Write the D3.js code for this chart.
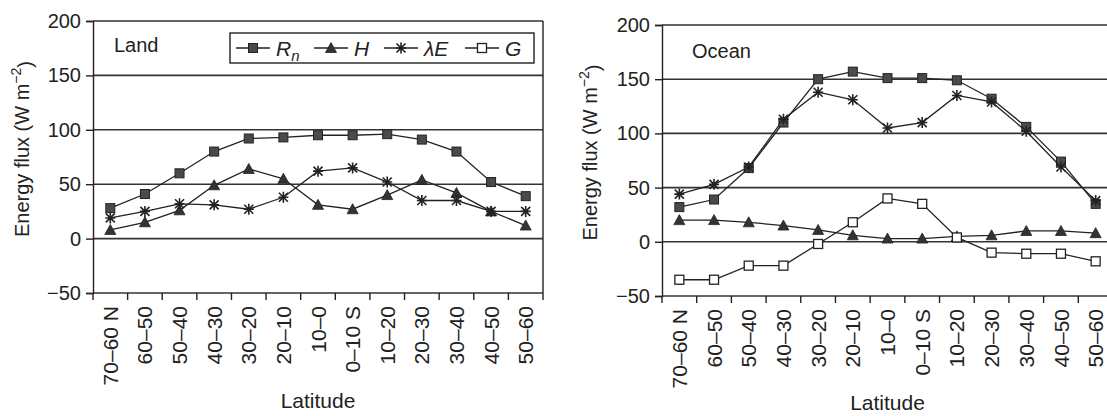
<!DOCTYPE html>
<html>
<head>
<meta charset="UTF-8">
<title>Energy flux by latitude</title>
<script src="https://d3js.org/d3.v7.min.js"></script>
<style>
  body { margin: 0; background: #fff; }
  text { font-family: "Liberation Sans", Arial, sans-serif; fill: #222; }
</style>
</head>
<body>
<script>
  // data
  var latitudes = ["70–60 N", "60–50", "50–40", "40–30", "30–20", "20–10", "10–0",
                   "0–10 S", "10–20", "20–30", "30–40", "40–50", "50–60"];
  var yTicks = [-50, 0, 50, 100, 150, 200];

  var landRn = [28, 41, 60, 80, 92, 93, 95, 95, 96, 91, 80, 52, 39];
  var landH  = [8, 15, 26, 49, 64, 55, 31, 27, 40, 54, 42, 25, 12];
  var landLE = [19, 25, 32, 31, 27, 38, 62, 65, 52, 35, 35, 25, 25];

  var oceanRn = [32, 39, 68, 110, 150, 157, 151, 151, 149, 132, 106, 74, 35];
  var oceanH  = [20, 20, 18, 15, 11, 6, 3, 3, 5, 6, 10, 10, 8];
  var oceanLE = [44, 53, 69, 113, 138, 131, 105, 110, 135, 129, 102, 69, 38];
  var oceanG  = [-35, -35, -22, -22, -2, 18, 40, 35, 4, -10, -11, -11, -18];

  var width = 1107, height = 416;

  var svg = d3.select("body").append("svg")
      .attr("width", width)
      .attr("height", height);

  // marker shapes
  function drawMarker(sel, type) {
    if (type == "square") {
      sel.append("rect").attr("x", -4.5).attr("y", -4.5).attr("width", 9).attr("height", 9)
         .attr("fill", "#4a4a4a").attr("stroke", "#222").attr("stroke-width", 1);
    } else if (type == "triangle") {
      sel.append("path").attr("d", "M0,-5.5L5.5,4.5L-5.5,4.5Z")
         .attr("fill", "#333").attr("stroke", "#222").attr("stroke-width", 0.8);
    } else if (type == "star") {
      sel.append("path").attr("d", "M0,-5.5V5.5M-4.5,-4.5L4.5,4.5M4.5,-4.5L-4.5,4.5M-5,0H5")
         .attr("fill", "none").attr("stroke", "#222").attr("stroke-width", 1.6);
    } else {
      sel.append("rect").attr("x", -4.5).attr("y", -4.5).attr("width", 9).attr("height", 9)
         .attr("fill", "#fff").attr("stroke", "#222").attr("stroke-width", 1.3);
    }
  }

  function drawPanel(p) {
    var x = d3.scaleBand().domain(latitudes).range([p.x0, p.x1]);
    var y = d3.scaleLinear().domain([-50, 200]).range([p.yBot, p.yTop]);
    var g = svg.append("g");

    // gridlines
    g.selectAll(".grid").data(yTicks).enter().append("line")
      .attr("x1", p.x0).attr("x2", p.x1)
      .attr("y1", function(d) { return y(d); }).attr("y2", function(d) { return y(d); })
      .attr("stroke", "#333").attr("stroke-width", 1.6);

    // y axis
    var yAxis = d3.axisLeft(y).tickValues(yTicks).tickSize(7).tickPadding(5)
      .tickFormat(function(d) { return d < 0 ? "\u2212" + Math.abs(d) : d; });
    var ya = g.append("g").attr("transform", "translate(" + p.x0 + ",0)").call(yAxis);
    ya.select(".domain").attr("stroke", "#222").attr("stroke-width", 1.4);
    ya.selectAll(".tick line").attr("stroke", "#222").attr("stroke-width", 1.4);
    ya.selectAll("text").style("font-size", "20px").attr("fill", "#222");

    // x axis: ticks at category boundaries
    var bounds = latitudes.map(function(d) { return x(d); }).concat([p.x1]);
    g.selectAll(".xt").data(bounds).enter().append("line")
      .attr("x1", function(d) { return d; }).attr("x2", function(d) { return d; })
      .attr("y1", p.yBot).attr("y2", p.yBot + 7)
      .attr("stroke", "#222").attr("stroke-width", 1.4);
    g.selectAll(".xl").data(latitudes).enter().append("text")
      .attr("transform", function(d) {
        return "translate(" + (x(d) + x.bandwidth() / 2) + "," + (p.yBot + 13) + ") rotate(-90)";
      })
      .attr("dy", "0.36em")
      .attr("text-anchor", "end")
      .style("font-size", "21px")
      .text(function(d) { return d; });

    if (p.frame) {
      g.append("line").attr("x1", p.x1).attr("x2", p.x1).attr("y1", p.yTop).attr("y2", p.yBot)
        .attr("stroke", "#222").attr("stroke-width", 1.4);
    }

    // axis titles
    var yt = g.append("text")
      .attr("transform", "translate(" + p.ytX + "," + ((p.yTop + p.yBot) / 2 - 8) + ") rotate(-90)")
      .attr("text-anchor", "middle")
      .style("font-size", "20px");
    yt.append("tspan").text("Energy flux (W m");
    yt.append("tspan").attr("dy", "-0.55em").style("font-size", "14px").text("\u22122");
    yt.append("tspan").attr("dy", "0.55em").text(")");

    g.append("text")
      .attr("x", (p.x0 + p.x1) / 2).attr("y", p.latY)
      .attr("text-anchor", "middle")
      .style("font-size", "21px")
      .text("Latitude");

    g.append("text").attr("x", p.nameX).attr("y", p.nameY)
      .style("font-size", "20px").text(p.name);

    // series
    var line = d3.line()
      .x(function(d, i) { return x(latitudes[i]) + x.bandwidth() / 2; })
      .y(function(d) { return y(d); });

    p.series.forEach(function(s) {
      g.append("path").datum(s.values).attr("d", line)
        .attr("fill", "none").attr("stroke", "#222").attr("stroke-width", 1.3);
    });
    p.series.forEach(function(s) {
      g.selectAll(null).data(s.values).enter().append("g")
        .attr("transform", function(d, i) {
          return "translate(" + (x(latitudes[i]) + x.bandwidth() / 2) + "," + y(d) + ")";
        })
        .each(function() { drawMarker(d3.select(this), s.marker); });
    });
  }

  drawPanel({
    x0: 93, x1: 543, yTop: 21, yBot: 293, frame: true,
    ytX: 29, latY: 408, name: "Land", nameX: 114, nameY: 52,
    series: [
      { values: landRn, marker: "square" },
      { values: landH, marker: "triangle" },
      { values: landLE, marker: "star" }
    ]
  });

  drawPanel({
    x0: 662, x1: 1113, yTop: 25, yBot: 296, frame: false,
    ytX: 597, latY: 410, name: "Ocean", nameX: 692, nameY: 58,
    series: [
      { values: oceanRn, marker: "square" },
      { values: oceanH, marker: "triangle" },
      { values: oceanLE, marker: "star" },
      { values: oceanG, marker: "open" }
    ]
  });

  // legend (left panel)
  var legendItems = [
    { name: "R", sub: "n", marker: "square" },
    { name: "H", marker: "triangle" },
    { name: "\u03BBE", marker: "star" },
    { name: "G", marker: "open" }
  ];
  var legendX = [236, 314, 384, 465];
  var lg = svg.append("g");
  lg.append("rect").attr("x", 230).attr("y", 33).attr("width", 304).attr("height", 30)
    .attr("fill", "#fff").attr("stroke", "#222").attr("stroke-width", 1.4);
  legendItems.forEach(function(it, i) {
    var lx = legendX[i];
    lg.append("line").attr("x1", lx).attr("x2", lx + 34).attr("y1", 48).attr("y2", 48)
      .attr("stroke", "#222").attr("stroke-width", 1.3);
    drawMarker(lg.append("g").attr("transform", "translate(" + (lx + 17) + ",48)"), it.marker);
    var t = lg.append("text").attr("x", lx + 40).attr("y", 56)
      .style("font-size", "21px").style("font-style", "italic");
    t.append("tspan").text(it.name);
    if (it.sub) t.append("tspan").attr("dy", "0.3em").style("font-size", "15px").text(it.sub);
  });
</script>
</body>
</html>
